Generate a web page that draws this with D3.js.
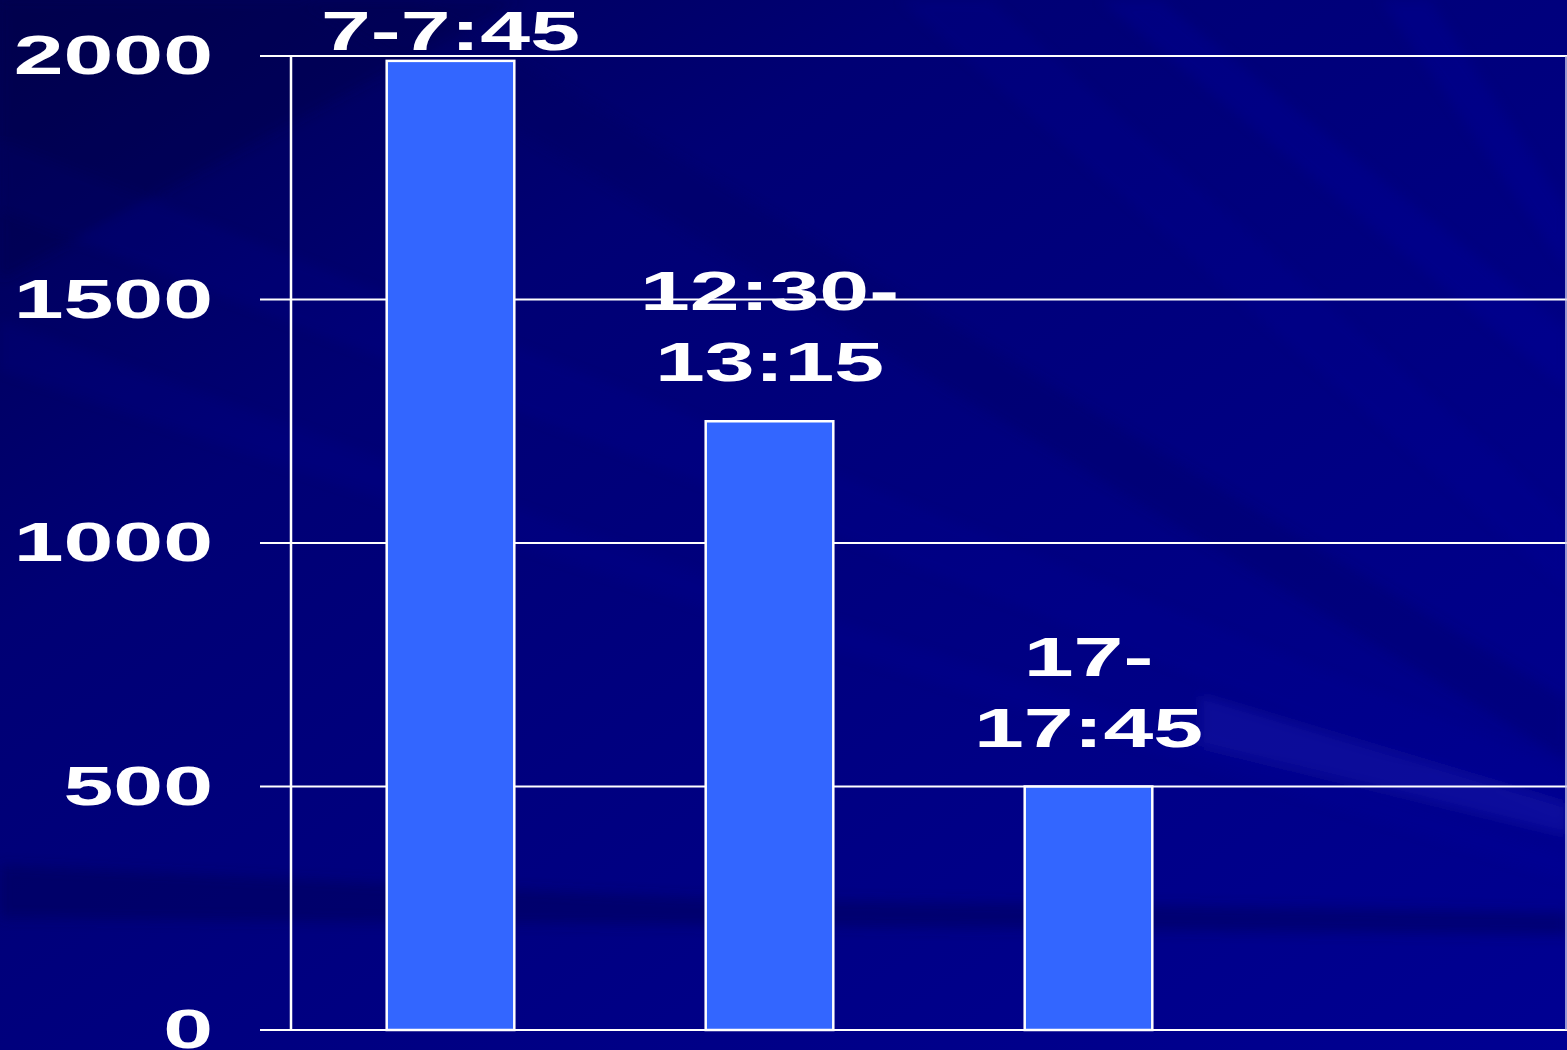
<!DOCTYPE html>
<html>
<head>
<meta charset="utf-8">
<script src="https://cdn.jsdelivr.net/npm/d3@7"></script>
<style>
  html, body { margin: 0; padding: 0; background: #000080; overflow: hidden; }
  svg { display: block; }
</style>
</head>
<body>
<svg id="chart" width="1567" height="1050"></svg>
<script>
// ---- data ----
const categories = ["7-7:45", "12:30-\n13:15", "17-\n17:45", ""];
const values = [1990, 1250, 500, null];
const yTicks = [0, 500, 1000, 1500, 2000];

// ---- layout ----
const W = 1567, H = 1050;
const plot = { left: 291, right: 1567, top: 56, bottom: 1030 };
const svg = d3.select("#chart");

// ---- background ----
const defs = svg.append("defs");
const bg = defs.append("linearGradient").attr("id", "bg")
  .attr("x1", "0").attr("y1", "0").attr("x2", "1").attr("y2", "1");
bg.append("stop").attr("offset", "0").attr("stop-color", "#000052");
bg.append("stop").attr("offset", "0.3").attr("stop-color", "#000074");
bg.append("stop").attr("offset", "0.7").attr("stop-color", "#000086");
bg.append("stop").attr("offset", "1").attr("stop-color", "#000092");
svg.append("rect").attr("width", W).attr("height", H).attr("fill", "url(#bg)");

const blur = defs.append("filter").attr("id", "soft").attr("x", "-10%").attr("y", "-10%")
  .attr("width", "120%").attr("height", "120%");
blur.append("feGaussianBlur").attr("stdDeviation", 6);

const streaks = [
  { d: "M0,140 L0,210 L900,560 L1567,820 L1567,770 L900,500 Z", c: "#1a1aa8", o: 0.12 },
  { d: "M0,320 L0,370 L800,640 L1567,880 L1567,855 L800,610 Z", c: "#2020b0", o: 0.1 },
  { d: "M0,865 L0,918 L700,925 L1567,935 L1567,912 L700,898 Z", c: "#000050", o: 0.4 },
  { d: "M1200,695 L1567,805 L1567,835 L1200,745 Z", c: "#3a3ad0", o: 0.22 },
  { d: "M1100,0 L1160,0 L1567,330 L1567,390 Z", c: "#1818a8", o: 0.22 },
  { d: "M1380,0 L1430,0 L1567,210 L1567,270 Z", c: "#1818a8", o: 0.22 },
  { d: "M900,0 L990,0 L1567,520 L1567,590 Z", c: "#1010a0", o: 0.15 },
  { d: "M300,0 L420,0 L1567,700 L1567,760 Z", c: "#00005a", o: 0.25 },
  { d: "M0,0 L520,0 L0,280 Z", c: "#000040", o: 0.3 }
];
svg.append("g").attr("filter", "url(#soft)").selectAll("path").data(streaks).join("path")
  .attr("d", d => d.d).attr("fill", d => d.c).attr("opacity", d => d.o);

// ---- scales ----
const x = d3.scaleBand().domain(categories.map((c, i) => i))
  .range([plot.left, plot.right]).paddingInner(0.6).paddingOuter(0.3);
const y = d3.scaleLinear().domain([0, 2000]).range([plot.bottom, plot.top]);

const FONT = "'Liberation Sans', Arial, Helvetica, sans-serif";
const SX = 1.6;

// ---- gridlines ----
svg.append("g").selectAll("line").data(yTicks).join("line")
  .attr("x1", 260).attr("x2", plot.right)
  .attr("y1", d => y(d)).attr("y2", d => y(d))
  .attr("stroke", "#ffffff").attr("stroke-width", 2);

// right border
svg.append("line").attr("x1", plot.right - 1).attr("x2", plot.right - 1)
  .attr("y1", plot.top).attr("y2", plot.bottom)
  .attr("stroke", "#c8c8e8").attr("stroke-width", 1.5);

// y axis line
svg.append("line").attr("x1", plot.left).attr("x2", plot.left)
  .attr("y1", plot.top).attr("y2", plot.bottom)
  .attr("stroke", "#ffffff").attr("stroke-width", 2.5);

// ---- tick labels ----
svg.append("g").selectAll("text").data(yTicks).join("text")
  .attr("transform", d => `translate(213,${y(d) + 18}) scale(${SX},1)`)
  .attr("text-anchor", "end")
  .attr("font-family", FONT).attr("font-weight", "bold").attr("font-size", 56)
  .attr("fill", "#ffffff")
  .text(d => d3.format("d")(d));

// ---- bars ----
const barData = categories.map((c, i) => ({ i, c, v: values[i] })).filter(d => d.v != null);
svg.append("g").selectAll("rect").data(barData).join("rect")
  .attr("x", d => x(d.i)).attr("width", x.bandwidth())
  .attr("y", d => y(d.v)).attr("height", d => y(0) - y(d.v))
  .attr("fill", "#3366ff").attr("stroke", "#ffffff").attr("stroke-width", 2.5);

// ---- bar labels ----
const lineH = 71;
barData.forEach(d => {
  const lines = d.c.split("\n");
  const cx = x(d.i) + x.bandwidth() / 2;
  const lastBase = Math.max(y(d.v) - 40, 50 + (lines.length - 1) * lineH);
  lines.forEach((ln, k) => {
    const base = lastBase - (lines.length - 1 - k) * lineH;
    svg.append("text")
      .attr("transform", `translate(${cx},${base}) scale(${SX},1)`)
      .attr("text-anchor", "middle")
      .attr("font-family", FONT).attr("font-weight", "bold").attr("font-size", 56)
      .attr("fill", "#ffffff")
      .text(ln);
  });
});
</script>
</body>
</html>
